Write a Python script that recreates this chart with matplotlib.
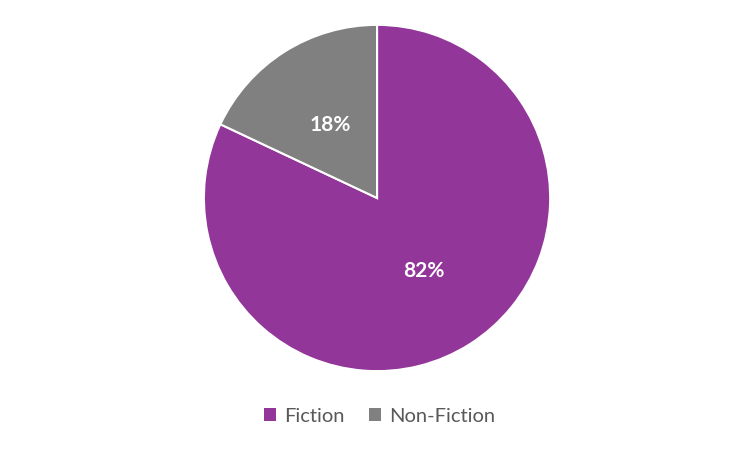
import matplotlib
matplotlib.use('Agg')
import matplotlib.pyplot as plt
from matplotlib.patches import Patch

plt.rcParams['font.family'] = ['Lato', 'DejaVu Sans']

categories = ['Fiction', 'Non-Fiction']
shares = [82, 18]
colours = ['#93369a', '#808080']

fig = plt.figure(figsize=(7.52, 4.49), dpi=100)
ax = fig.add_axes([0.27, 0.1715, 348 / 752, 348 / 449])
wedges, texts, autotexts = ax.pie(shares, colors=colours, startangle=90, counterclock=False,
                                  autopct='%d%%', pctdistance=0.5,
                                  wedgeprops=dict(edgecolor='white', linewidth=1.5))
for t in autotexts:
    t.set_color('white')
    t.set_fontsize(15)
    t.set_fontweight('bold')
ax.set_xlim(-1.005, 1.005)
ax.set_ylim(-1.005, 1.005)
ax.set_aspect('equal')

handles = [Patch(facecolor=c, edgecolor='none') for c in colours]
fig.legend(handles, categories, loc='center', bbox_to_anchor=(0.505, (449 - 416) / 449),
           ncol=2, frameon=False, fontsize=14.5, labelcolor='#595959',
           handlelength=0.6, handleheight=0.6, handletextpad=0.4, columnspacing=1.2)

plt.savefig('out.png')
